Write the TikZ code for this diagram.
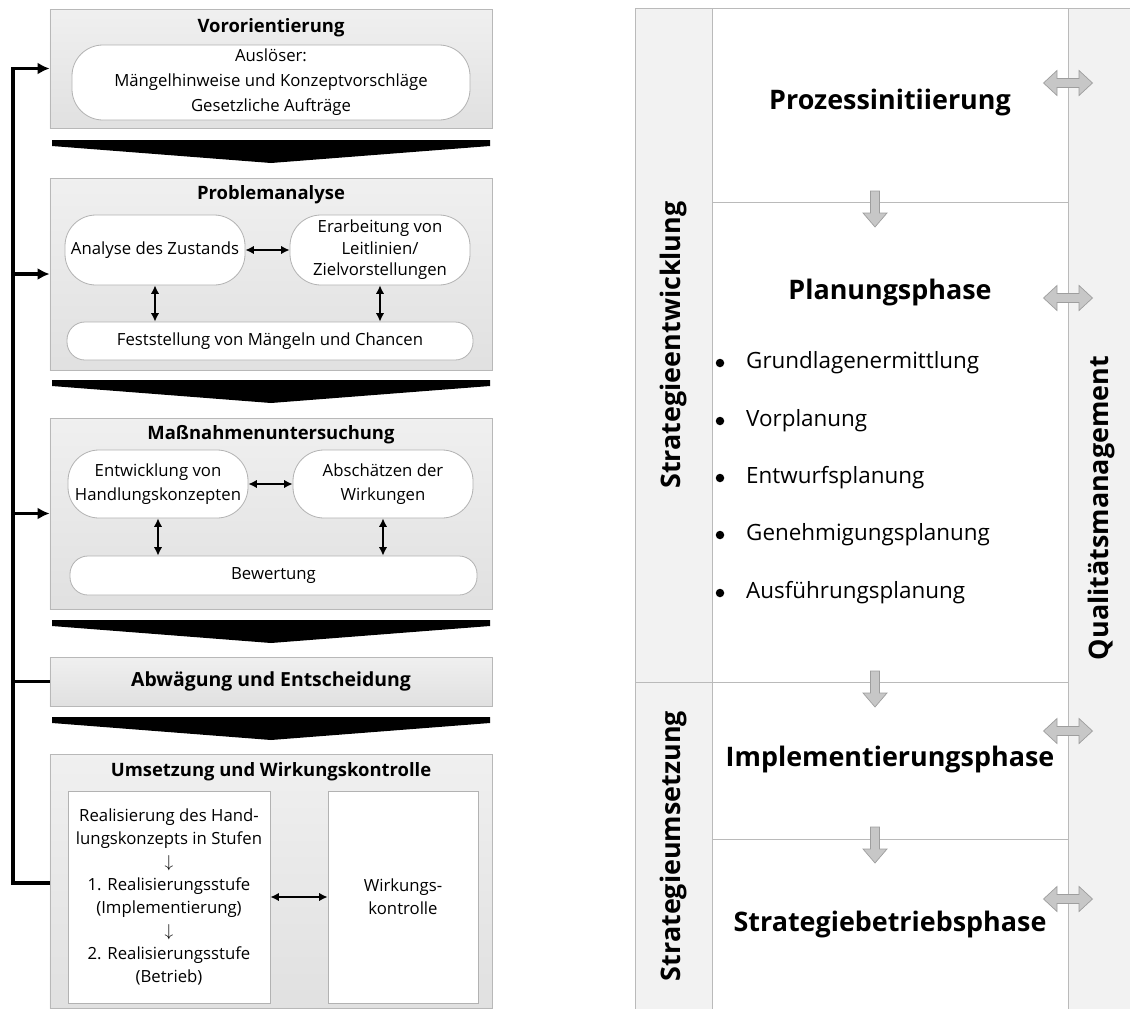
\documentclass[tikz,border=0pt]{standalone}
\usepackage{fontspec}
\setmainfont{Open Sans}
\usetikzlibrary{arrows.meta,shadows}

\begin{document}
\begin{tikzpicture}[x=1bp,y=-1bp,
  font=\fontsize{16.8}{21.5}\selectfont,
  panel/.style={draw=black!28, line width=0.8bp, top color=black!6, bottom color=black!12,
    drop shadow={opacity=0.25, shadow xshift=1.2bp, shadow yshift=-1.2bp}, inner sep=0pt},
  pill/.style={draw=black!30, line width=0.8bp, fill=white, rounded corners=31bp, align=center, inner sep=0pt},
  flatpill/.style={pill, rounded corners=18bp},
  whitebox/.style={draw=black!30, line width=0.8bp, fill=white, align=center, inner sep=0pt},
  ttl/.style={font=\fontsize{18.5}{22}\selectfont\bfseries, inner sep=0pt},
  link/.style={line width=1.6bp, {Latex[length=8.5bp,width=8.5bp]}-{Latex[length=8.5bp,width=8.5bp]}},
  fb/.style={line width=3.4bp},
  fbarrow/.style={fb, -{Latex[length=12bp,width=12bp]}},
  frame/.style={draw=black!27, line width=0.9bp},
  phase/.style={font=\fontsize{27}{32}\selectfont\bfseries, inner sep=0pt},
  side/.style={font=\fontsize{27}{32}\selectfont\bfseries, rotate=90, inner sep=0pt},
  item/.style={font=\fontsize{22.5}{27}\selectfont, anchor=west, inner sep=0pt},
  dot/.style={circle, fill=black, inner sep=0pt, minimum size=8.5bp},
  chevron/.pic={\fill[black] (-219,0) -- (219,0) -- (219,6) -- (0,23) -- (-219,6) -- cycle;},
  downarr/.pic={\filldraw[fill=black!22, draw=black!38, line width=0.7bp]
     (-4.5,0) -- (4.5,0) -- (4.5,22) -- (12,22) -- (0,36) -- (-12,22) -- (-4.5,22) -- cycle;},
  duoarr/.pic={\filldraw[fill=black!22, draw=black!38, line width=0.7bp]
     (-24.5,0) -- (-11,-12.5) -- (-11,-4.5) -- (11,-4.5) -- (11,-12.5) -- (24.5,0)
     -- (11,12.5) -- (11,4.5) -- (-11,4.5) -- (-11,12.5) -- cycle;}
]
\useasboundingbox (0,0) rectangle (1130,1009);

% ---------- left column: process steps ----------
\node[panel, minimum width=442bp, minimum height=119bp] (vor) at (271,68.5) {};
\node[ttl] (vorT) at (271,28) {Vororientierung};
\node[pill, minimum width=398bp, minimum height=75bp, font=\fontsize{16.8}{25}\selectfont] (vorP) at (271,82.5)
  {Auslöser:\\Mängelhinweise und Konzeptvorschläge\\Gesetzliche Aufträge};
\pic at (271,140) {chevron};

\node[panel, minimum width=442bp, minimum height=192bp] (prob) at (271,274) {};
\node[ttl] (probT) at (271,195) {Problemanalyse};
\node[pill, minimum width=180bp, minimum height=70bp] (ana) at (155,250) {Analyse des Zustands};
\node[pill, minimum width=180bp, minimum height=70bp] (erar) at (380,250) {Erarbeitung von\\Leitlinien/\\Zielvorstellungen};
\node[flatpill, minimum width=406bp, minimum height=38bp] (fest) at (270,341) {Feststellung von Mängeln und Chancen};
\draw[link] (ana.east) -- (erar.west);
\draw[link] (ana.south) -- (ana.south |- fest.north);
\draw[link] (erar.south) -- (erar.south |- fest.north);
\pic at (271,380) {chevron};

\node[panel, minimum width=442bp, minimum height=191bp] (mass) at (271,513.5) {};
\node[ttl] (massT) at (271,435) {Maßnahmenuntersuchung};
\node[pill, minimum width=180bp, minimum height=68bp, font=\fontsize{16.8}{24}\selectfont] (entw) at (158,484) {Entwicklung von\\Handlungskonzepten};
\node[pill, minimum width=180bp, minimum height=68bp, font=\fontsize{16.8}{24}\selectfont] (absch) at (383,484) {Abschätzen der\\Wirkungen};
\node[flatpill, minimum width=407bp, minimum height=39bp] (bew) at (273.5,575.5) {Bewertung};
\draw[link] (entw.east) -- (absch.west);
\draw[link] (entw.south) -- (entw.south |- bew.north);
\draw[link] (absch.south) -- (absch.south |- bew.north);
\pic at (271,620) {chevron};

\node[panel, minimum width=442bp, minimum height=49bp, font=\fontsize{19.5}{23}\selectfont\bfseries] (abw) at (271,681.5) {Abwägung und Entscheidung};
\pic at (271,717) {chevron};

\node[panel, minimum width=442bp, minimum height=254bp] (ums) at (271,881) {};
\node[ttl] (umsT) at (271,772) {Umsetzung und Wirkungskontrolle};
\node[whitebox, minimum width=202bp, minimum height=212bp, font=\fontsize{16.8}{23}\selectfont] (real) at (169,897)
  {Realisierung des Hand-\\lungskonzepts in Stufen\\$\downarrow$\\1. Realisierungsstufe\\(Implementierung)\\$\downarrow$\\2. Realisierungsstufe\\(Betrieb)};
\node[whitebox, minimum width=150bp, minimum height=212bp, font=\fontsize{16.8}{23}\selectfont] (wirk) at (403,897)
  {Wirkungs-\\kontrolle};
\draw[link] (real.east) -- (wirk.west);

% feedback loop
\coordinate (fbB) at (13,883);
\coordinate (fbT) at (13,68.5);
\draw[fbarrow] (ums.west |- fbB) -- (fbB) -- (fbT) -- (vor.west);
\draw[fbarrow] (fbB |- prob.west) -- (prob.west);
\draw[fbarrow] (fbB |- mass.west) -- (mass.west);
\draw[fb] (fbB |- abw.west) -- (abw.west);

% ---------- right column: strategy phases ----------
\fill[black!5] (635,8) rectangle (712,1009);
\fill[black!5] (1068,8) rectangle (1130,1009);
\draw[frame] (635,1009) -- (635,8) -- (1130,8);
\draw[frame] (712,8) -- (712,1009);
\draw[frame] (1068,8) -- (1068,1009);
\draw[frame] (712,202) -- (1068,202);
\draw[frame] (635,682) -- (1068,682);
\draw[frame] (712,839) -- (1068,839);

\node[side] (sEntw) at (674,345) {Strategieentwicklung};
\node[side] (sUms) at (674,846) {Strategieumsetzung};
\node[side] (sQual) at (1102,508) {Qualitätsmanagement};

\node[phase] (pInit) at (890,103) {Prozessinitiierung};
\node[phase] (pPlan) at (890,293) {Planungsphase};
\node[phase] (pImpl) at (890,760) {Implementierungsphase};
\node[phase] (pBetr) at (890,925) {Strategiebetriebsphase};

\foreach \t/\yy in {Grundlagenermittlung/363, Vorplanung/421, Entwurfsplanung/478, Genehmigungsplanung/535, Ausführungsplanung/593}{
  \node[dot] at (720,\yy) {};
  \node[item] at (746,\yy) {\t};
}

\pic at (875,191) {downarr};
\pic at (875,671) {downarr};
\pic at (875,827) {downarr};

\pic at (1068,83) {duoarr};
\pic at (1068,298) {duoarr};
\pic at (1068,731) {duoarr};
\pic at (1068,899) {duoarr};
\end{tikzpicture}
\end{document}
